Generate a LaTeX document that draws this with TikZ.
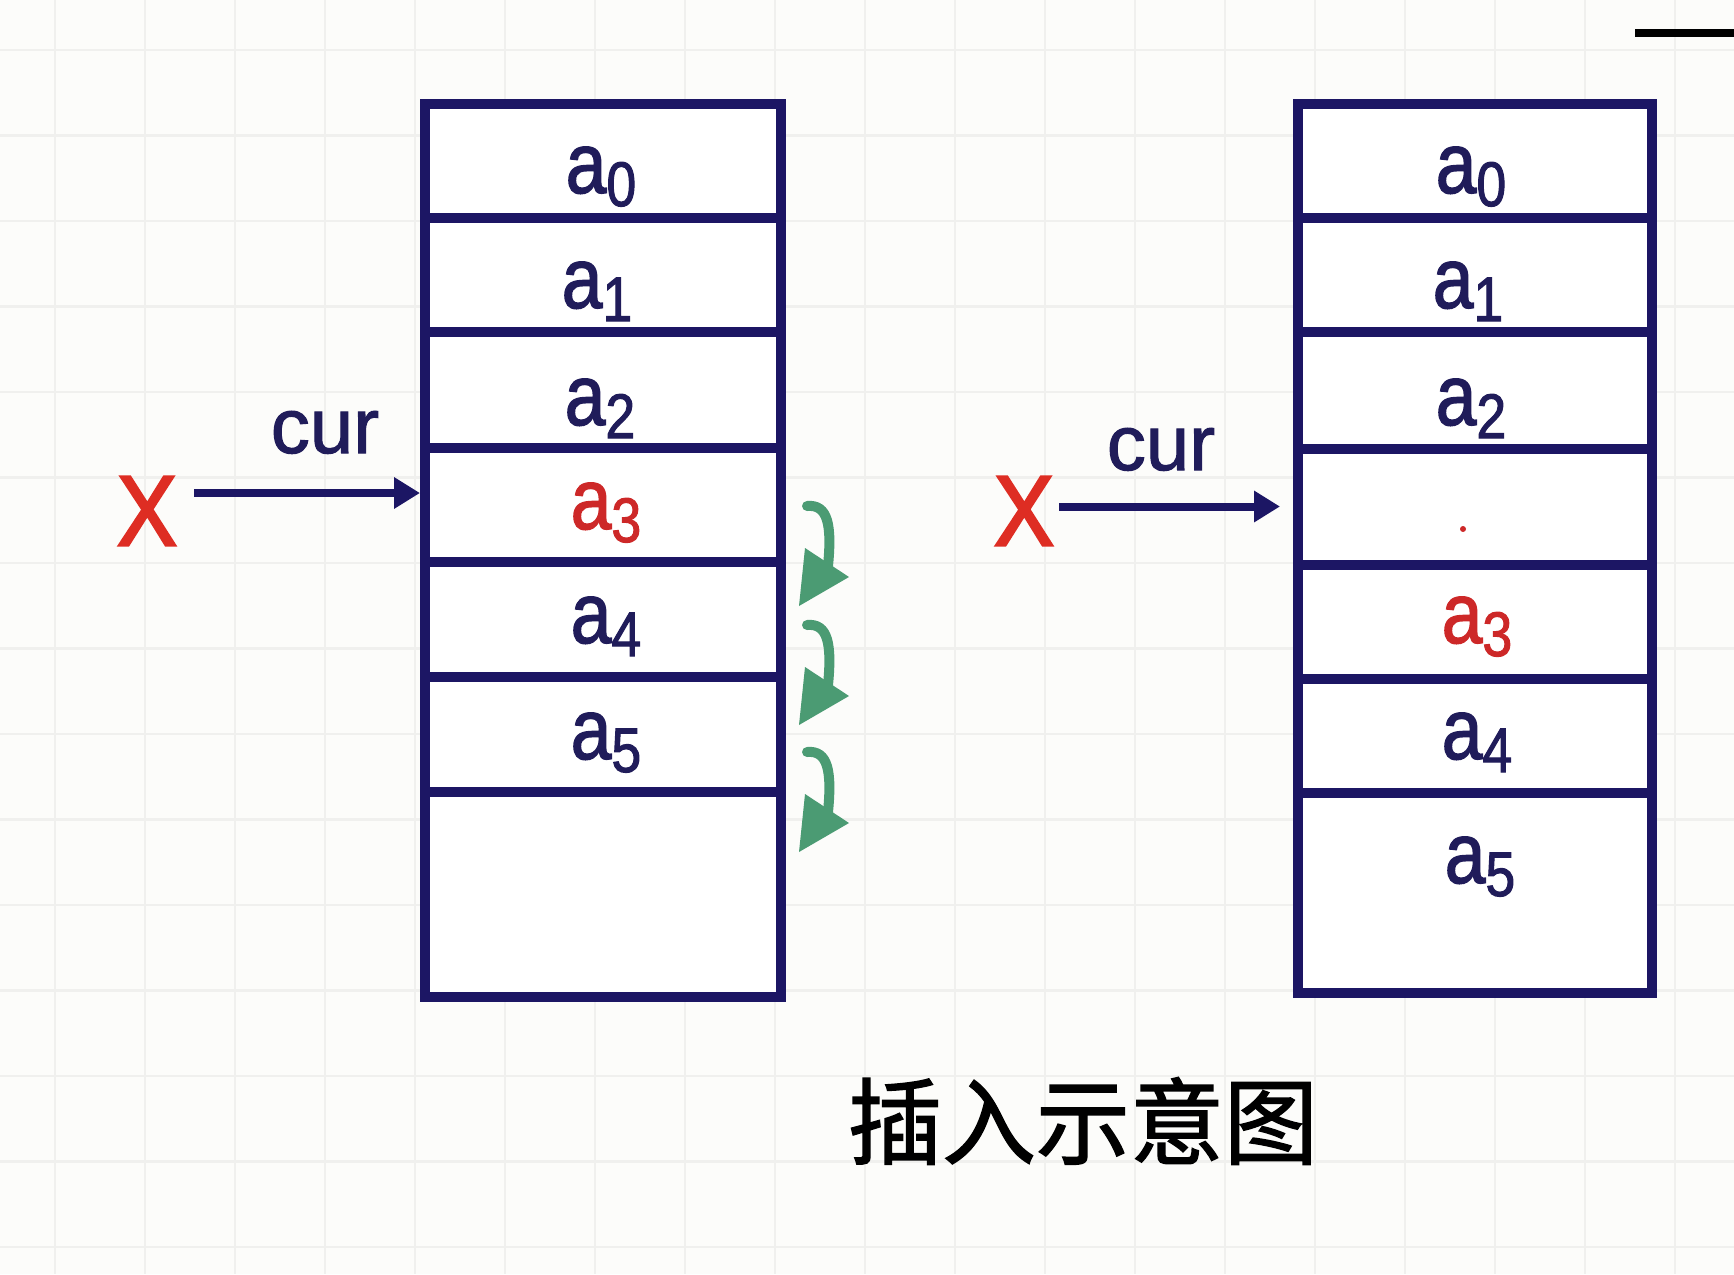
\documentclass[tikz,border=0pt]{standalone}
\usepackage{fontspec}
\setmainfont{Liberation Sans}
\newfontfamily\cellfont[FakeStretch=0.85,FakeBold=1.6]{Liberation Sans}
\newfontfamily\curfont[FakeBold=1.4]{Liberation Sans}
\newfontfamily\xfont[FakeStretch=0.9,FakeBold=2.5]{Liberation Sans}
\newfontfamily\cjkfont[FakeBold=1.5]{Noto Sans CJK SC}
\usetikzlibrary{arrows.meta}
\definecolor{navy}{RGB}{28,22,100}
\definecolor{txtnavy}{RGB}{32,28,90}
\definecolor{xred}{RGB}{222,45,35}
\definecolor{ared}{RGB}{205,40,40}
\definecolor{gr}{RGB}{75,155,115}
\definecolor{bgcol}{RGB}{252,252,250}
\definecolor{gridcol}{RGB}{240,240,238}
\newcommand{\alab}[1]{a\raisebox{-6.5pt}{\fontsize{31.5pt}{31.5pt}\selectfont #1}}
\begin{document}
\begin{tikzpicture}[x=0.5pt,y=-0.5pt,
  gridline/.style={draw=gridcol, line width=1.3pt},
  cellL/.style={draw=navy, line width=5pt, fill=white, rectangle, inner sep=0pt, outer sep=0pt, minimum width=178.25pt},
  cellR/.style={draw=navy, line width=5pt, fill=white, rectangle, inner sep=0pt, outer sep=0pt, minimum width=177pt},
  lab/.style={text=txtnavy, inner sep=0pt, anchor=base, font=\cellfont\fontsize{43pt}{43pt}\selectfont},
  redlab/.style={lab, text=ared},
  xmark/.style={text=xred, inner sep=0pt, font=\xfont\fontsize{50pt}{50pt}\selectfont},
  curlab/.style={text=txtnavy, inner sep=0pt, anchor=base, font=\curfont\fontsize{39pt}{39pt}\selectfont},
  ptr/.style={draw=navy, line width=4pt, -{Triangle[length=13pt,width=15pt]}},
  gstem/.style={draw=gr, line width=5pt, line cap=round},
  ghead/.style={fill=gr}
]
\useasboundingbox (0,0) rectangle (1734,1274);
\fill[bgcol] (0,0) rectangle (1734,1274);
% grid
\foreach \k in {0,...,18} \draw[gridline] ({55+90*\k},0) -- ({55+90*\k},1274);
\foreach \k in {0,...,14} \draw[gridline] (0,{50+85.5*\k}) -- (1734,{50+85.5*\k});

% top-right line
\draw[line width=4pt] (1635,33) -- (1734,33);

% left column
\node[cellL, minimum height=57.25pt] (l0) at (602.75,160.75) {};
\node[cellL, minimum height=57pt]    (l1) at (602.75,275) {};
\node[cellL, minimum height=58pt]    (l2) at (602.75,390) {};
\node[cellL, minimum height=57pt]    (l3) at (602.75,505) {};
\node[cellL, minimum height=57.5pt]  (l4) at (602.75,619.5) {};
\node[cellL, minimum height=57.5pt]  (l5) at (602.75,734.5) {};
\node[cellL, minimum height=102.5pt] (l6) at (602.75,894.5) {};

\node[lab]    (tl0) at (601,193) {\alab{0}};
\node[lab]    (tl1) at (597,308) {\alab{1}};
\node[lab]    (tl2) at (600,425) {\alab{2}};
\node[redlab] (tl3) at (606,529) {\alab{3}};
\node[lab]    (tl4) at (606,643) {\alab{4}};
\node[lab]    (tl5) at (606,759) {\alab{5}};

% right column
\node[cellR, minimum height=57.25pt] (r0) at (1475,160.75) {};
\node[cellR, minimum height=57pt]    (r1) at (1475,275) {};
\node[cellR, minimum height=58.5pt]  (r2) at (1475,390.5) {};
\node[cellR, minimum height=58pt]    (r3) at (1475,507) {};
\node[cellR, minimum height=57pt]    (r4) at (1475,622) {};
\node[cellR, minimum height=57pt]    (r5) at (1475,736) {};
\node[cellR, minimum height=100pt]   (r6) at (1475,893) {};

\node[lab]    (tr0) at (1471,193) {\alab{0}};
\node[lab]    (tr1) at (1468,308) {\alab{1}};
\node[lab]    (tr2) at (1471,425) {\alab{2}};
\node[circle, fill=ared, inner sep=0pt, minimum size=3pt] (dot) at (1463,529) {};
\node[redlab] (tr3) at (1477,643) {\alab{3}};
\node[lab]    (tr4) at (1477,759) {\alab{4}};
\node[lab]    (tr5) at (1480,883) {\alab{5}};

% X marks, cur labels, pointers
\node[xmark] (xl) at (147,511) {X};
\node[xmark] (xr) at (1024,511) {X};
\node[curlab] (cl) at (325,453) {cur};
\node[curlab] (cr) at (1161,470) {cur};
\draw[ptr, shorten <=8.3pt, shorten >=2.25pt] ([yshift=9pt]xl.east) -- ([yshift=6pt]l3.west);
\draw[ptr, shorten <=2.3pt, shorten >=9pt] ([yshift=2.25pt]xr.east) -- ([yshift=0.25pt]r3.west);

% green shift arrows
\foreach \o in {0,119,246} {
  \draw[gstem] (807,{506+\o}) .. controls (828,{504+\o}) and (832,{525+\o}) .. (828,{566+\o});
  \fill[ghead] (805,{548+\o}) -- (849,{577+\o}) -- (799,{606+\o}) -- cycle;
}

% title
\node[inner sep=0pt, font=\cjkfont\fontsize{47pt}{47pt}\selectfont] (title) at (1083,1121) {插入示意图};
\end{tikzpicture}
\end{document}
